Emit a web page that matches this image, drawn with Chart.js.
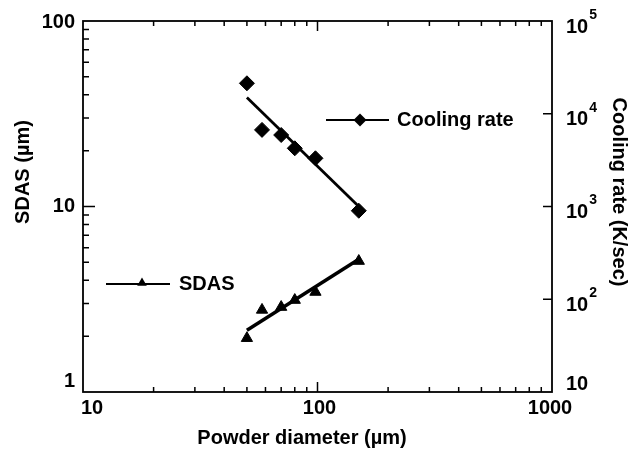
<!DOCTYPE html>
<html>
<head>
<meta charset="utf-8">
<script src="https://cdn.jsdelivr.net/npm/chart.js@4.4.0/dist/chart.umd.min.js"></script>
<style>
  body { margin: 0; background: #fff; }
  #wrap { width: 632px; height: 450px; }
</style>
</head>
<body>
<div id="wrap"><canvas id="myChart" width="632" height="450"></canvas></div>
<script>
// values
const diameters = [50, 58, 70, 80, 98, 150];
const sdas = [1.95, 2.77, 2.87, 3.13, 3.46, 5.08];
const coolingRate = [21300, 6700, 5900, 4240, 3310, 900];
const fitX = [50, 150];
const sdasFit = [2.15, 5.2];
const coolingFit = [15000, 1000];

// axes
const xLabels = [10, 100, 1000];
const xMinor = [20, 30, 40, 50, 60, 70, 80, 90, 200, 300, 400, 500, 600, 700, 800, 900];
const sdasLabels = [1, 10, 100];
const sdasMinor = [2, 3, 4, 5, 6, 7, 8, 9, 20, 30, 40, 50, 60, 70, 80, 90];
const coolingExp = [1, 2, 3, 4, 5];

const FONT = '"Liberation Sans", Arial, sans-serif';

function pairs(xs, ys) {
  return xs.map((v, i) => ({ x: v, y: ys[i] }));
}

function diamond(ctx, cx, cy, r) {
  ctx.beginPath();
  ctx.moveTo(cx - r, cy); ctx.lineTo(cx, cy - r); ctx.lineTo(cx + r, cy); ctx.lineTo(cx, cy + r);
  ctx.closePath(); ctx.fill();
}
function triangle(ctx, cx, cy, r) {
  ctx.beginPath();
  ctx.moveTo(cx, cy - r); ctx.lineTo(cx + r * 0.87, cy + r * 0.5); ctx.lineTo(cx - r * 0.87, cy + r * 0.5);
  ctx.closePath(); ctx.fill();
}

const frame = {
  id: 'frame',
  afterDatasetsDraw(chart) {
    const { ctx, chartArea: a } = chart;
    const { x, y, y2 } = chart.scales;
    ctx.save();
    ctx.strokeStyle = '#000';
    ctx.fillStyle = '#000';
    ctx.lineWidth = 1.8;
    ctx.strokeRect(a.left, a.top, a.right - a.left, a.bottom - a.top);

    ctx.lineWidth = 1.5;
    ctx.beginPath();
    xMinor.forEach(v => {
      const px = x.getPixelForValue(v);
      ctx.moveTo(px, a.bottom); ctx.lineTo(px, a.bottom - 5);
      ctx.moveTo(px, a.top); ctx.lineTo(px, a.top + 5);
    });
    const p100 = x.getPixelForValue(100);
    ctx.moveTo(p100, a.bottom); ctx.lineTo(p100, a.bottom - 10);
    ctx.moveTo(p100, a.top); ctx.lineTo(p100, a.top + 10);
    sdasMinor.forEach(v => {
      const py = y.getPixelForValue(v);
      ctx.moveTo(a.left, py); ctx.lineTo(a.left + 6, py);
    });
    const p10 = y.getPixelForValue(10);
    ctx.moveTo(a.left, p10); ctx.lineTo(a.left + 12, p10);
    coolingExp.slice(1, 4).forEach(e => {
      const py = y2.getPixelForValue(Math.pow(10, e));
      ctx.moveTo(a.right, py); ctx.lineTo(a.right - 9, py);
    });
    ctx.stroke();

    // tick labels
    ctx.font = 'bold 20px ' + FONT;
    ctx.textBaseline = 'middle';
    ctx.textAlign = 'center';
    const xShift = [9, 2, -2];
    xLabels.forEach((v, i) => {
      ctx.fillText(String(v), x.getPixelForValue(v) + xShift[i], 408);
    });
    ctx.textAlign = 'right';
    const yShift = [-11, 0, 1];
    sdasLabels.forEach((v, i) => {
      ctx.fillText(String(v), 75, y.getPixelForValue(v) + yShift[i]);
    });
    ctx.textAlign = 'left';
    coolingExp.forEach(e => {
      const py = y2.getPixelForValue(Math.pow(10, e));
      ctx.font = 'bold 20px ' + FONT;
      if (e === 1) {
        ctx.fillText('10', 566, py - 8);
      } else {
        ctx.fillText('10', 566, py + 6);
        const w = ctx.measureText('10').width;
        ctx.font = 'bold 14px ' + FONT;
        ctx.fillText(String(e), 567 + w, py - 6);
      }
    });

    // axis titles
    ctx.font = 'bold 20px ' + FONT;
    ctx.textAlign = 'center';
    ctx.fillText('Powder diameter (\u00b5m)', 302, 438);
    ctx.save();
    ctx.translate(23, 172);
    ctx.rotate(-Math.PI / 2);
    ctx.fillText('SDAS (\u00b5m)', 0, 0);
    ctx.restore();
    ctx.save();
    ctx.translate(619, 192);
    ctx.rotate(Math.PI / 2);
    ctx.fillText('Cooling rate (K/sec)', 0, 0);
    ctx.restore();

    // in-plot legend
    ctx.lineWidth = 2;
    ctx.beginPath();
    ctx.moveTo(326, 120); ctx.lineTo(389, 120);
    ctx.moveTo(106, 284); ctx.lineTo(170, 284);
    ctx.stroke();
    diamond(ctx, 360, 120, 6.5);
    triangle(ctx, 142, 283, 5.5);
    ctx.font = 'bold 20px ' + FONT;
    ctx.textAlign = 'left';
    ctx.fillText('Cooling rate', 397, 120);
    ctx.fillText('SDAS', 179, 284);
    ctx.restore();
  }
};

new Chart(document.getElementById('myChart'), {
  type: 'scatter',
  data: {
    datasets: [
      {
        label: 'SDAS',
        data: pairs(diameters, sdas),
        yAxisID: 'y',
        pointStyle: 'triangle',
        pointRadius: 6.5,
        backgroundColor: '#000',
        borderColor: '#000',
        borderWidth: 1
      },
      {
        label: 'SDAS fit',
        data: pairs(fitX, sdasFit),
        yAxisID: 'y',
        showLine: true,
        pointRadius: 0,
        borderColor: '#000',
        borderWidth: 3.5
      },
      {
        label: 'Cooling rate',
        data: pairs(diameters, coolingRate),
        yAxisID: 'y2',
        pointStyle: 'rectRot',
        pointRadius: 7.5,
        backgroundColor: '#000',
        borderColor: '#000',
        borderWidth: 1
      },
      {
        label: 'Cooling rate fit',
        data: pairs(fitX, coolingFit),
        yAxisID: 'y2',
        showLine: true,
        pointRadius: 0,
        borderColor: '#000',
        borderWidth: 2.8
      }
    ]
  },
  options: {
    responsive: false,
    animation: false,
    layout: { padding: { left: 83, top: 21, right: 80, bottom: 58 } },
    scales: {
      x: { type: 'logarithmic', min: 10, max: 1000, display: false },
      y: { type: 'logarithmic', min: 1, max: 100, display: false },
      y2: { type: 'logarithmic', min: 10, max: 100000, display: false, position: 'right' }
    },
    plugins: { legend: { display: false }, tooltip: { enabled: false } }
  },
  plugins: [frame]
});
</script>
</body>
</html>
